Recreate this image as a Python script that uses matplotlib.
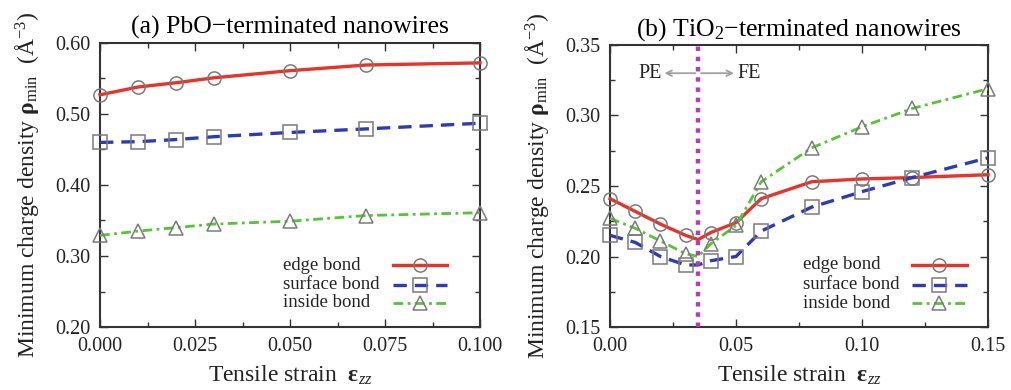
import matplotlib
matplotlib.use("Agg")
import matplotlib.pyplot as plt
from matplotlib.ticker import MultipleLocator, FormatStrFormatter

plt.rcParams["font.family"] = ["Liberation Serif", "DejaVu Serif"]
plt.rcParams["mathtext.fontset"] = "custom"
plt.rcParams["mathtext.rm"] = "Liberation Serif"
plt.rcParams["mathtext.it"] = "Liberation Serif:italic"
plt.rcParams["mathtext.bf"] = "Liberation Serif:bold"

# (a) PbO-terminated nanowires
strain_a = [0.000, 0.010, 0.020, 0.030, 0.050, 0.070, 0.100]
edge_a = [0.527, 0.538, 0.544, 0.551, 0.561, 0.569, 0.572]
surface_a = [0.460, 0.461, 0.464, 0.468, 0.474, 0.479, 0.487]
inside_a = [0.329, 0.335, 0.340, 0.345, 0.349, 0.357, 0.361]

# (b) TiO2-terminated nanowires (0.035 is the PE/FE transition point)
strain_b = [0.000, 0.010, 0.020, 0.030, 0.035, 0.040, 0.050, 0.060, 0.080, 0.100, 0.120, 0.150]
edge_b = [0.241, 0.232, 0.223, 0.215, 0.212, 0.217, 0.224, 0.241, 0.253, 0.255, 0.256, 0.258]
surface_b = [0.215, 0.210, 0.200, 0.194, 0.194, 0.197, 0.200, 0.218, 0.235, 0.246, 0.256, 0.270]
inside_b = [0.227, 0.220, 0.211, 0.202, 0.200, 0.209, 0.222, 0.253, 0.277, 0.292, 0.305, 0.319]
transition_b = 0.035
marked_b = [i for i, s in enumerate(strain_b) if s != transition_b]

labels = ["edge bond", "surface bond", "inside bond"]
colors = ["#e8332a", "#2b3cb4", "#55c437"]
markers = ["o", "s", "^"]
styles = ["-", (0, (4.0, 2.4)), (0, (3.5, 1.6, 1.0, 1.6))]
widths = [2.4, 2.4, 2.0]
marker_style = dict(markersize=9.5, markerfacecolor="none",
                    markeredgecolor="#7a7a7a", markeredgewidth=1.1)

W, H = 1011, 390
fig = plt.figure(figsize=(W / 100, H / 100), dpi=100)
ax_a = fig.add_axes([100 / W, 1 - 327 / H, 380 / W, 284 / H])
ax_b = fig.add_axes([610 / W, 1 - 327 / H, 378 / W, 282 / H])

ylabel = r"Minimum charge density $\mathbf{\rho}_{\mathrm{min}}$  (Å$^{-3}$)"
xlabel = r"Tensile strain  $\mathbf{\varepsilon}_{zz}$"


def draw(ax, x, series, every=None):
    for y, lab, c, m, ls, lw in zip(series, labels, colors, markers, styles, widths):
        ax.plot(x, y, color=c, ls=ls, lw=lw, marker=m, markevery=every,
                label=lab, zorder=3, clip_on=False, **marker_style)


def key(ax, text_x, line_x0, line_x1, rows_y):
    # gnuplot-style key: left-aligned labels followed by the line sample
    for lab, c, m, ls, lw, yy in zip(labels, colors, markers, styles, widths, rows_y):
        ax.text(text_x, yy, lab, transform=ax.transAxes, ha="left",
                va="center", fontsize=13.5, color="#222222")
        ax.plot([line_x0, line_x1], [yy, yy], transform=ax.transAxes,
                color=c, ls=ls, lw=lw, zorder=3)
        ax.plot([(line_x0 + line_x1) / 2], [yy], transform=ax.transAxes,
                marker=m, zorder=4, **marker_style)


draw(ax_a, strain_a, [edge_a, surface_a, inside_a])
draw(ax_b, strain_b, [edge_b, surface_b, inside_b], every=marked_b)

ax_a.set_xlim(0.0, 0.1)
ax_a.set_ylim(0.2, 0.6)
ax_a.xaxis.set_major_locator(MultipleLocator(0.025))
ax_a.xaxis.set_minor_locator(MultipleLocator(0.0125))
ax_a.yaxis.set_major_locator(MultipleLocator(0.1))
ax_a.yaxis.set_minor_locator(MultipleLocator(0.05))
ax_a.xaxis.set_major_formatter(FormatStrFormatter("%.3f"))
ax_a.yaxis.set_major_formatter(FormatStrFormatter("%.2f"))
ax_a.set_title("(a) PbO\u2212terminated nanowires", fontsize=18.5, pad=7)

ax_b.set_xlim(0.0, 0.15)
ax_b.set_ylim(0.15, 0.35)
ax_b.xaxis.set_major_locator(MultipleLocator(0.05))
ax_b.xaxis.set_minor_locator(MultipleLocator(0.025))
ax_b.yaxis.set_major_locator(MultipleLocator(0.05))
ax_b.yaxis.set_minor_locator(MultipleLocator(0.025))
ax_b.xaxis.set_major_formatter(FormatStrFormatter("%.2f"))
ax_b.yaxis.set_major_formatter(FormatStrFormatter("%.2f"))
ax_b.set_title("(b) TiO$_2$\u2212terminated nanowires", fontsize=18.5, pad=7)

# PE / FE boundary
ax_b.axvline(transition_b, color="#b43cb4", lw=3.2, dashes=(1.0, 1.3), zorder=4)
y_pf = 0.330
ax_b.annotate("", xy=(0.0205, y_pf), xytext=(transition_b, y_pf),
              arrowprops=dict(arrowstyle="->", color="#a0a0a0", lw=1.3))
ax_b.annotate("", xy=(0.0503, y_pf), xytext=(transition_b, y_pf),
              arrowprops=dict(arrowstyle="->", color="#a0a0a0", lw=1.3))
ax_b.text(0.0205, y_pf, "PE", ha="right", va="center", fontsize=14.5, color="#222222")
ax_b.text(0.0505, y_pf, "FE", ha="left", va="center", fontsize=14.5, color="#222222")

key(ax_a, 0.482, 0.771, 0.913, [0.218, 0.148, 0.085])
key(ax_b, 0.511, 0.799, 0.944, [0.220, 0.149, 0.085])

for ax in (ax_a, ax_b):
    for sp in ax.spines.values():
        sp.set_linewidth(1.5)
        sp.set_color("#333333")
    ax.tick_params(which="both", direction="in", top=True, right=True,
                   colors="#333333", width=1.0, labelsize=14.5, labelcolor="#222222")
    ax.tick_params(which="major", length=6, pad=7)
    ax.tick_params(which="minor", length=3.5)
    ax.set_xlabel(xlabel, fontsize=17, labelpad=6, color="#222222")
    ax.set_ylabel(ylabel, fontsize=17, labelpad=10, color="#222222")

fig.savefig("out.png", dpi=100)
